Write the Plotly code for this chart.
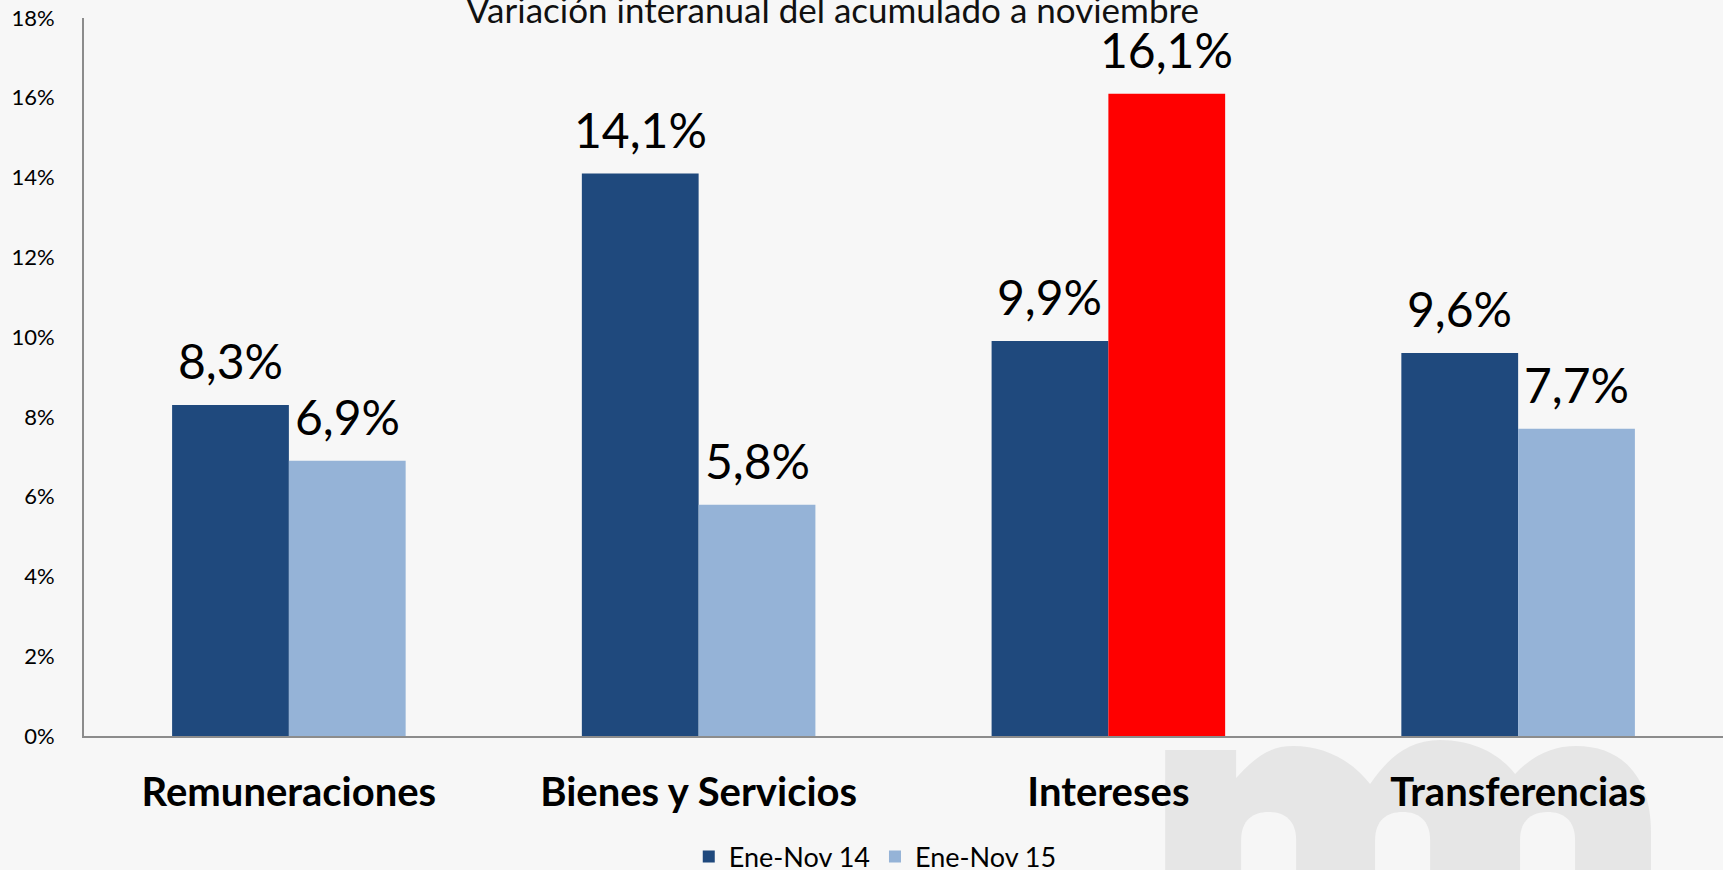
import plotly.graph_objects as go

categories = ["Remuneraciones", "Bienes y Servicios", "Intereses", "Transferencias"]
series_names = ["Ene-Nov 14", "Ene-Nov 15"]
values_14 = [8.3, 14.1, 9.9, 9.6]
values_15 = [6.9, 5.8, 16.1, 7.7]
y_ticks = [0, 2, 4, 6, 8, 10, 12, 14, 16, 18]
y_tick_labels = ["0%", "2%", "4%", "6%", "8%", "10%", "12%", "14%", "16%", "18%"]
title_text = "Variación interanual del acumulado a noviembre"

FONT = "Lato"
DARK = "#1F497D"
LIGHT = "#95B3D7"
RED = "#FF0000"
BG = "#f7f7f7"

W, H = 1723, 870
L, R, T, B = 83.5, 0, 18, 134
PW, PH = W - L - R, H - T - B

colors_15 = [RED if c == "Intereses" else LIGHT for c in categories]

fig = go.Figure()
fig.add_trace(go.Bar(name=series_names[0], x=categories, y=values_14,
                     marker=dict(color=DARK, line=dict(width=0))))
fig.add_trace(go.Bar(name=series_names[1], x=categories, y=values_15,
                     marker=dict(color=colors_15, line=dict(width=0))))


def px(X):
    return (X - L) / PW


def py(Y):
    return (H - B - Y) / PH


# data labels
bar_px = PW / len(categories) * (1 - 0.43) / 2
annotations = []
for si, vals in enumerate([values_14, values_15]):
    for c, v in zip(categories, vals):
        annotations.append(dict(
            x=c, y=v, xref="x", yref="y", text=f"{v:.1f}".replace(".", ",") + "%",
            showarrow=False, xanchor="center", yanchor="bottom",
            xshift=(si - 0.5) * bar_px, yshift=14,
            font=dict(family=FONT, size=48, color="black")))

annotations.append(dict(
    x=px(832), y=py(9), xref="paper", yref="paper",
    text=title_text, showarrow=False, xanchor="center", yanchor="middle",
    font=dict(family=FONT, size=35, color="#111111")))


def P(points, dx=8):
    return " ".join(f"{px(X + dx):.5f},{py(Y):.5f}" for X, Y in points)


gray_path = ("M " + P([(1157, 880)]) + " L " + P([(1157, 750)]) + " L " + P([(1228, 750)]) +
             " L " + P([(1228, 778)]) +
             " C " + P([(1248, 756), (1262, 746), (1285, 746)]) +
             " C " + P([(1318, 746), (1345, 762), (1362, 784)]) +
             " C " + P([(1380, 758), (1400, 740), (1432, 740)]) +
             " C " + P([(1470, 740), (1495, 758), (1507, 774)]) +
             " C " + P([(1525, 755), (1545, 746), (1568, 746)]) +
             " C " + P([(1615, 746), (1643, 778), (1643, 832)]) +
             " L " + P([(1643, 880)]) + " Z")


def counter(x0, x1, top):
    xm = (x0 + x1) / 2
    return ("M " + P([(x0, 880)]) + " L " + P([(x0, top + 28)]) +
            " C " + P([(x0, top + 8), (x0 + 12, top), (xm, top)]) +
            " C " + P([(x1 - 12, top), (x1, top + 8), (x1, top + 28)]) +
            " L " + P([(x1, 880)]) + " Z")


shapes = [dict(type="path", path=gray_path, xref="paper", yref="paper",
               fillcolor="#e6e6e6", line=dict(width=0), layer="below")]
for x0, x1 in [(1233, 1288), (1367, 1422), (1512, 1567)]:
    shapes.append(dict(type="path", path=counter(x0, x1, 812), xref="paper", yref="paper",
                       fillcolor="#f6f6f6", line=dict(width=0), layer="below"))

fig.update_layout(
    width=W, height=H,
    margin=dict(l=L, r=R, t=T, b=B, pad=0, autoexpand=False),
    paper_bgcolor=BG, plot_bgcolor=BG,
    barmode="group", bargap=0.43, bargroupgap=0,
    showlegend=True,
    legend=dict(orientation="h", x=px(875), y=py(857), xanchor="center", yanchor="middle",
                font=dict(family=FONT, size=27, color="black"), bgcolor="rgba(0,0,0,0)",
                tracegroupgap=0),
    annotations=annotations,
    shapes=shapes,
    font=dict(family=FONT, color="black"),
    xaxis=dict(showline=True, linecolor="#8c8c8c", linewidth=2, ticks="",
               tickfont=dict(family=FONT, size=40, color="black", weight="bold"),
               ticklabelstandoff=20, showgrid=False, zeroline=False, fixedrange=True,
               automargin=False),
    yaxis=dict(range=[0, 18], tickvals=y_ticks, ticktext=y_tick_labels, showline=True,
               linecolor="#8c8c8c", linewidth=2, ticks="", showgrid=False, zeroline=False,
               tickfont=dict(family=FONT, size=22, color="black"), ticklabelstandoff=23,
               fixedrange=True, automargin=False),
)

fig.write_html("out.html", config={"displayModeBar": False, "staticPlot": True},
               post_script="document.body.style.margin='0';document.body.style.overflow='hidden';")
